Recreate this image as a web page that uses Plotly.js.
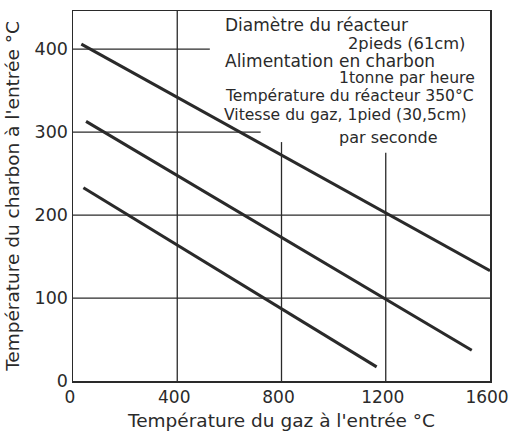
<!DOCTYPE html>
<html>
<head>
<meta charset="utf-8">
<script src="https://cdn.plot.ly/plotly-3.0.1.min.js"></script>
<style>html,body{margin:0;padding:0;background:#fff;}#chart{width:509px;height:432px;}</style>
</head>
<body>
<div id="chart"></div>
<script>
// Data
const line1X = [32, 1600];
const line1Y = [406, 133];
const line2X = [50, 1530];
const line2Y = [313, 37];
const line3X = [40, 1165];
const line3Y = [233, 17];

const xTicks = [0, 400, 800, 1200, 1600];
const yTicks = [0, 100, 200, 300, 400];

const noteLines = [
  "Diamètre du réacteur",
  "2pieds (61cm)",
  "Alimentation en charbon",
  "1tonne par heure",
  "Température du réacteur 350°C",
  "Vitesse du gaz, 1pied (30,5cm)",
  "par seconde"
];

const ink = "#2a2a2a";
const FONT = "DejaVu Sans, sans-serif";

const mk = (x, y) => ({x: x, y: y, type: "scatter", mode: "lines",
  line: {color: ink, width: 3}, hoverinfo: "skip", showlegend: false});

const data = [mk(line1X, line1Y), mk(line2X, line2Y), mk(line3X, line3Y)];

const gl = {color: ink, width: 1.3};
const shapes = [
  {type: "line", xref: "x", yref: "y", x0: 400, x1: 400, y0: 0, y1: 446, line: gl, layer: "below"},
  {type: "line", xref: "x", yref: "y", x0: 800, x1: 800, y0: 0, y1: 288, line: gl, layer: "below"},
  {type: "line", xref: "x", yref: "y", x0: 1200, x1: 1200, y0: 0, y1: 275, line: gl, layer: "below"},
  {type: "line", xref: "x", yref: "y", x0: 0, x1: 1600, y0: 100, y1: 100, line: gl, layer: "below"},
  {type: "line", xref: "x", yref: "y", x0: 0, x1: 1600, y0: 200, y1: 200, line: gl, layer: "below"},
  {type: "line", xref: "x", yref: "y", x0: 0, x1: 720, y0: 300, y1: 300, line: gl, layer: "below"},
  {type: "line", xref: "x", yref: "y", x0: 0, x1: 525, y0: 400, y1: 400, line: gl, layer: "below"}
];

const notePos = [
  {x: 0.36, y: 0.961, a: "left", s: 17},
  {x: 0.945, y: 0.912, a: "right", s: 16.3},
  {x: 0.36, y: 0.866, a: "left", s: 17},
  {x: 0.969, y: 0.818, a: "right", s: 15.6},
  {x: 0.36, y: 0.769, a: "left", s: 15.6},
  {x: 0.357, y: 0.719, a: "left", s: 15.6},
  {x: 0.633, y: 0.658, a: "left", s: 16}
];
const annotations = noteLines.map((t, i) => ({
  text: t, xref: "paper", yref: "paper", x: notePos[i].x, y: notePos[i].y,
  xanchor: notePos[i].a, yanchor: "middle", showarrow: false,
  font: {family: FONT, size: notePos[i].s, color: ink}
}));

const layout = {
  width: 509, height: 432,
  margin: {l: 73, r: 19, t: 11, b: 51},
  paper_bgcolor: "#fff", plot_bgcolor: "#fff",
  font: {family: FONT, color: ink},
  xaxis: {
    range: [0, 1600], tickvals: xTicks, ticktext: xTicks.map(String),
    showgrid: false, zeroline: false, showline: true, mirror: true,
    linecolor: ink, linewidth: 1.5, ticks: "", ticklabeloverflow: "allow",
    ticklabelshift: -3,
    tickfont: {size: 17, color: ink},
    title: {text: "Température du gaz à l'entrée °C", font: {size: 18.5, color: ink}, standoff: 8}
  },
  yaxis: {
    range: [0, 446], tickvals: yTicks, ticktext: yTicks.map(String),
    showgrid: false, zeroline: false, showline: true, mirror: true,
    linecolor: ink, linewidth: 1.5, ticks: "",
    tickfont: {size: 17.5, color: ink},
    title: {text: "Température du charbon à l'entrée °C", font: {size: 18.5, color: ink}, standoff: 10}
  },
  shapes: shapes,
  annotations: annotations
};

Plotly.newPlot("chart", data, layout, {displayModeBar: false, staticPlot: true});
</script>
</body>
</html>
